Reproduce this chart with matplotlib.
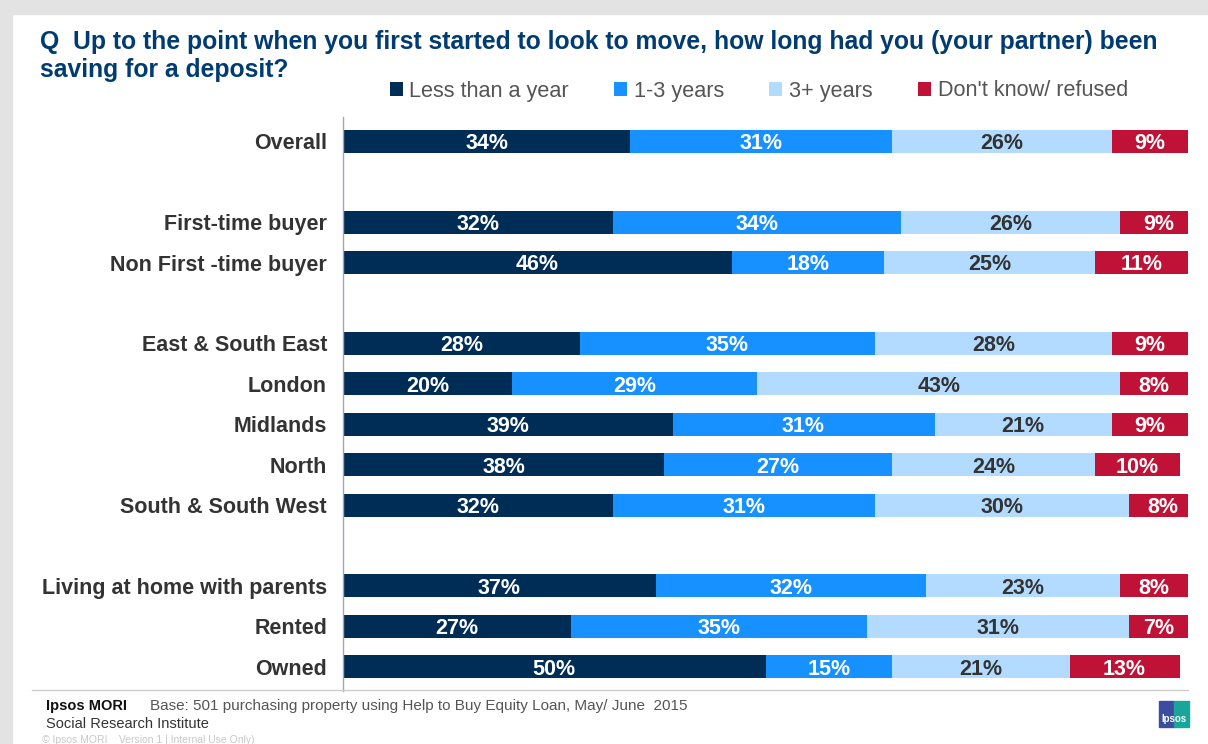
import numpy as np
import matplotlib
matplotlib.use("Agg")
import matplotlib.pyplot as plt
from matplotlib.patches import Rectangle

plt.rcParams["font.family"] = ["Liberation Sans", "DejaVu Sans"]

# ---------- data ----------
categories = ["Overall", "First-time buyer", "Non First -time buyer",
              "East & South East", "London", "Midlands", "North",
              "South & South West", "Living at home with parents",
              "Rented", "Owned"]
positions = [0, 2, 3, 5, 6, 7, 8, 9, 11, 12, 13]   # gaps between groups

series = ["Less than a year", "1-3 years", "3+ years", "Don't know/ refused"]
less_than_year = [34, 32, 46, 28, 20, 39, 38, 32, 37, 27, 50]
one_to_three = [31, 34, 18, 35, 29, 31, 27, 31, 32, 35, 15]
three_plus = [26, 26, 25, 28, 43, 21, 24, 30, 23, 31, 21]
dont_know = [9, 9, 11, 9, 8, 9, 10, 8, 8, 7, 13]

colors = ["#002D56", "#1691FF", "#B3DBFF", "#C01236"]
text_colors = ["white", "white", "#333333", "white"]

W, H = 1208, 744
fig = plt.figure(figsize=(W / 100, H / 100), dpi=100)

# slide frame
fig.patches.append(Rectangle((0, 1 - 14 / H), 1, 14 / H, transform=fig.transFigure,
                             color="#E3E3E3", zorder=0))
fig.patches.append(Rectangle((0, 0), 12 / W, 1, transform=fig.transFigure,
                             color="#E3E3E3", zorder=0))

ax = fig.add_axes([343 / W, (H - 691) / H, 845 / W, (691 - 117) / H])
left = np.zeros(len(categories))
handles = []
for vals, name, c, tc in zip([less_than_year, one_to_three, three_plus, dont_know],
                             series, colors, text_colors):
    vals = np.array(vals, dtype=float)
    bars = ax.barh(positions, vals, left=left, height=0.57, color=c, label=name,
                   edgecolor="none")
    handles.append(bars)
    for p, l, v in zip(positions, left, vals):
        ax.text(l + v / 2, p + 0.06, f"{int(v)}%", ha="center", va="center",
                color=tc, fontsize=15.5, fontweight="bold")
    left += vals

ax.set_xlim(0, 100)
ax.set_ylim(13.6, -0.6)
ax.set_yticks(positions)
ax.set_yticklabels(categories, fontsize=15.5, fontweight="bold", color="#333333")
ax.tick_params(axis="y", length=0, pad=11.5)
ax.set_xticks([])
for s in ["top", "right", "bottom"]:
    ax.spines[s].set_visible(False)
ax.spines["left"].set_color("#A0A8B8")
ax.spines["left"].set_linewidth(1)

# title
title_kw = dict(ha="left", va="center", fontsize=17.8, fontweight="bold", color="#003C71")
fig.text(40 / W, 1 - 42 / H,
         "Q  Up to the point when you first started to look to move, how long had you (your partner) been",
         **title_kw)
fig.text(40 / W, 1 - 70 / H, "saving for a deposit?", **title_kw)

# legend
fig.legend(handles=handles, labels=series, loc="center left",
           bbox_to_anchor=(370 / W, 1 - 91 / H), ncol=4, frameon=False,
           fontsize=15.6, handlelength=0.6, handleheight=0.6, handletextpad=0.3,
           columnspacing=2.1, labelcolor="#555555")

# footer
fig.add_artist(plt.Line2D([32 / W, 1188 / W], [1 - 690 / H, 1 - 690 / H],
                          color="#CCCCCC", lw=1, transform=fig.transFigure))
fig.text(46 / W, 1 - 706 / H, "Ipsos MORI", fontsize=10.5, fontweight="bold",
         color="#111111", va="center")
fig.text(150 / W, 1 - 706 / H,
         "Base: 501 purchasing property using Help to Buy Equity Loan, May/ June  2015",
         fontsize=11, color="#555555", va="center")
fig.text(46 / W, 1 - 724 / H, "Social Research Institute", fontsize=10.5,
         color="#333333", va="center")
fig.text(42 / W, 1 - 740 / H, "© Ipsos MORI    Version 1 | Internal Use Only)",
         fontsize=7.5, color="#C8C8C8", va="center")

# logo
fig.patches.append(Rectangle((1159 / W, 1 - 727 / H), 15 / W, 26 / H,
                             transform=fig.transFigure, color="#3A4DA0"))
fig.patches.append(Rectangle((1174 / W, 1 - 727 / H), 15 / W, 26 / H,
                             transform=fig.transFigure, color="#1AA59A"))
fig.text(1174 / W, 1 - 719 / H, "Ipsos", fontsize=7, fontweight="bold",
         color="white", ha="center", va="center")

fig.savefig("out.png", dpi=100)
